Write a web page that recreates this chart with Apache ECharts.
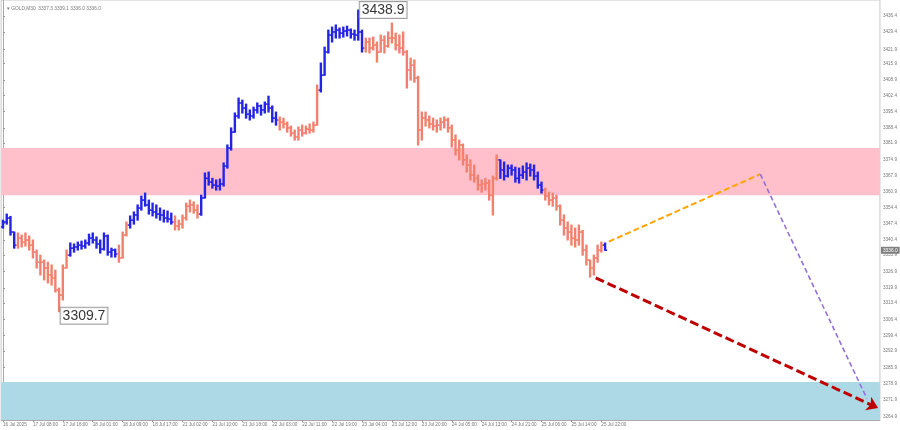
<!DOCTYPE html>
<html>
<head>
<meta charset="utf-8">
<script src="https://cdn.jsdelivr.net/npm/echarts@6/dist/echarts.min.js"></script>
<style>html,body{margin:0;padding:0;background:#fff}#c{width:900px;height:430px}</style>
</head>
<body>
<div id="c"></div>
<script>
// ---------- DATA ----------
const headerText = '\u25BE GOLD,M30  3337.3 3339.1 3336.0 3336.0';
const firstOpen = 3346.0;
const closes = [
3348.1,3349.8,3343.8,3338.2,3341.2,3339.5,3340.4,3338.2,3335.2,3330.9,
3330.9,3328.4,3325.4,3324.1,3319.0,3316.8,3328.4,3333.9,3336.9,3337.4,
3338.2,3337.8,3339.1,3341.2,3340.4,3338.7,3336.5,3342.1,3335.2,3336.1,
3334.4,3332.7,3342.5,3346.8,3348.9,3351.1,3354.1,3357.5,3355.4,3353.2,
3352.4,3351.5,3351.1,3349.8,3349.4,3348.1,3346.4,3347.2,3349.8,3354.9,
3355.4,3353.2,3351.5,3358.4,3366.8,3365.2,3363.9,3363.5,3364.4,3372.1,
3379.8,3386.6,3393.5,3399.1,3396.9,3394.3,3393.5,3396.1,3397.8,3396.1,
3398.6,3396.9,3392.6,3391.8,3390.9,3390.1,3388.4,3386.2,3384.5,3387.5,
3386.2,3387.9,3387.5,3389.6,3404.6,3411.0,3420.9,3428.2,3429.5,3430.3,
3429.0,3429.9,3430.3,3428.6,3428.2,3429.5,3422.6,3425.2,3422.6,3423.9,
3420.9,3426.0,3423.5,3426.9,3426.9,3423.9,3422.6,3420.9,3413.2,3415.3,
3409.8,3387.5,3392.6,3391.8,3390.1,3389.2,3389.6,3390.9,3391.8,3388.4,
3383.2,3378.9,3381.1,3374.7,3372.5,3368.2,3366.8,3363.9,3364.4,3364.8,
3359.6,3366.8,3374.7,3370.4,3367.8,3371.2,3370.4,3366.8,3368.2,3369.5,
3371.2,3370.4,3367.8,3363.9,3361.8,3359.2,3357.5,3358.4,3354.9,3348.9,
3345.5,3343.8,3341.2,3340.4,3343.8,3336.1,3331.8,3328.4,3332.7,3336.1,
3338.2,3336.0];
const highs = [
3348.9,3351.5,3350.5,3343.8,3343.4,3342.5,3343.4,3342.1,3340.4,3336.1,
3333.9,3331.8,3330.9,3329.7,3327.5,3319.8,3329.7,3336.1,3339.1,3338.7,
3339.5,3339.9,3340.4,3342.9,3343.4,3341.7,3340.4,3343.4,3342.5,3336.9,
3336.5,3338.2,3343.8,3348.1,3350.7,3352.4,3355.4,3359.2,3360.5,3357.5,
3356.2,3355.4,3354.1,3353.2,3352.8,3351.9,3350.7,3348.9,3351.1,3356.2,
3357.5,3356.7,3355.4,3359.6,3369.1,3369.5,3366.8,3366.1,3366.5,3373.4,
3381.1,3388.4,3394.8,3401.2,3400.3,3398.6,3396.1,3397.3,3399.1,3398.2,
3399.5,3402.0,3397.8,3395.2,3393.1,3392.6,3390.9,3389.2,3387.5,3388.8,
3389.6,3389.2,3390.1,3390.9,3406.8,3416.2,3423.0,3430.3,3431.6,3432.5,
3431.2,3431.6,3432.0,3430.8,3430.3,3438.9,3430.3,3426.9,3426.9,3427.3,
3425.2,3428.2,3427.8,3429.5,3433.3,3429.0,3428.2,3429.5,3421.5,3418.3,
3417.5,3410.5,3395.2,3395.2,3393.5,3392.6,3391.8,3392.6,3393.1,3392.6,
3389.6,3385.4,3383.2,3381.5,3376.8,3374.7,3372.5,3368.2,3366.1,3366.8,
3366.1,3367.8,3376.8,3374.7,3373.8,3372.5,3372.5,3371.6,3371.2,3372.1,
3373.4,3372.9,3372.5,3369.5,3365.2,3362.6,3360.9,3360.5,3359.6,3355.4,
3351.1,3348.1,3346.8,3345.5,3346.8,3344.5,3338.2,3331.8,3333.9,3338.2,
3339.5,3339.1];
const lows = [
3345.5,3347.2,3342.5,3336.9,3336.9,3337.4,3337.8,3336.1,3332.7,3328.4,
3325.4,3323.3,3322.0,3321.1,3318.1,3309.7,3314.7,3328.4,3333.5,3335.2,
3336.1,3336.5,3336.9,3338.2,3339.1,3336.9,3334.8,3336.1,3333.9,3333.1,
3333.1,3330.9,3332.7,3342.1,3345.5,3347.2,3348.9,3353.2,3354.9,3351.5,
3350.7,3349.8,3348.9,3348.1,3348.1,3347.2,3344.7,3344.7,3345.5,3348.9,
3352.4,3351.9,3349.8,3351.0,3358.4,3363.9,3362.6,3361.8,3361.8,3363.5,
3371.2,3378.9,3386.6,3392.6,3394.8,3392.6,3391.8,3392.6,3394.8,3393.9,
3394.8,3395.2,3390.9,3389.6,3387.5,3388.4,3386.6,3384.9,3383.2,3383.2,
3384.9,3385.8,3386.2,3386.6,3389.6,3403.8,3411.0,3420.5,3425.2,3426.9,
3426.9,3427.3,3427.8,3426.9,3426.0,3426.0,3420.9,3420.9,3420.5,3421.8,
3416.6,3420.9,3420.5,3423.0,3424.8,3421.8,3420.5,3419.6,3405.5,3408.9,
3408.0,3381.1,3383.2,3389.2,3388.4,3387.5,3386.6,3387.5,3388.4,3386.6,
3380.2,3376.8,3374.7,3372.5,3369.5,3366.1,3365.2,3361.8,3360.9,3361.8,
3357.5,3351.1,3366.1,3366.8,3366.1,3367.4,3368.2,3365.2,3364.8,3366.8,
3366.1,3367.8,3366.1,3362.6,3360.5,3357.5,3355.4,3354.9,3353.2,3346.8,
3342.5,3340.4,3338.2,3337.4,3338.2,3333.9,3329.7,3324.5,3325.4,3330.9,
3335.2,3336.0];
// last bar index of each wave, and its direction (up = blue, down = salmon)
const waveEnds = [3, 17, 30, 33, 45, 52, 73, 84, 96, 132, 144, 160, 161];
const waveDirs = ['up','down','up','down','up','down','up','down','up','down','up','down','up'];
const totalSlots = 235; // bars + future slots on the time axis
const xTickLabels = ['16 Jul 2025','17 Jul 08:00','17 Jul 16:00','18 Jul 01:00','18 Jul 09:00','18 Jul 17:00',
  '21 Jul 02:00','21 Jul 10:00','21 Jul 18:00','22 Jul 03:00','22 Jul 11:00','22 Jul 19:00','23 Jul 04:00',
  '23 Jul 12:00','23 Jul 20:00','24 Jul 05:00','24 Jul 13:00','24 Jul 21:00','25 Jul 06:00','25 Jul 14:00','25 Jul 22:00'];
const xTickStep = 8;
const yTicks = [3436.4,3429.4,3421.9,3415.9,3408.9,3402.4,3395.4,3388.4,3381.9,3374.9,3367.9,3360.9,3354.4,
  3347.4,3340.4,3333.9,3326.9,3319.9,3313.4,3306.4,3299.4,3292.9,3285.9,3278.9,3271.9,3264.9];
const yMin = 3263.3, yMax = 3443.2;
const pinkZone = [3359.6, 3379.8];
const blueZone = [3263.3, 3279.6];
const extremeHigh = [95, 3438.9];
const extremeLow = [15, 3309.7];
const currentPrice = 3336.0;
const orangePath = [[162.0, 3339.7], [202.5, 3368.6]];
const purplePath = [[202.5, 3368.6], [231.0, 3272.5]];
const redPath = [[158.5, 3324.2], [234.0, 3268.4]];

// ---------- BUILD ----------
const UP = '#2424e6', DOWN = '#f2806e';
const dirOf = [];
{ let s = 0; waveEnds.forEach((e, k) => { for (let i = s; i <= e; i++) dirOf[i] = waveDirs[k] === 'up' ? 1 : 0; s = e + 1; }); }
const bars = closes.map((c, i) => [i, i === 0 ? firstOpen : closes[i - 1], c, lows[i], highs[i], dirOf[i]]);
const xTickValues = xTickLabels.map((_, k) => k * xTickStep);
const FONT = 'Liberation Sans, Arial, sans-serif';

const chart = echarts.init(document.getElementById('c'), null, {renderer: 'canvas'});
chart.setOption({
  animation: false,
  backgroundColor: '#fff',
  title: {text: headerText, left: 2, top: 1, textStyle: {fontSize: 4.8, color: '#777', fontWeight: 'normal', fontFamily: FONT}},
  grid: {left: 0, right: 18, top: 0, bottom: 10, show: true, borderColor: '#c8c8c8', borderWidth: 1},
  xAxis: {
    type: 'value', min: -0.5, max: totalSlots - 0.5,
    axisLine: {show: true, lineStyle: {color: '#aaa', width: 1}},
    splitLine: {show: false},
    axisTick: {show: true, customValues: xTickValues, length: 2, inside: false, lineStyle: {color: '#999'}},
    axisLabel: {customValues: xTickValues, formatter: v => xTickLabels[Math.round(v / xTickStep)] || '',
      fontSize: 4.6, color: '#777', align: 'left', margin: 2, fontFamily: FONT}
  },
  yAxis: {
    type: 'value', position: 'right', min: yMin, max: yMax, scale: true,
    axisLine: {show: true, lineStyle: {color: '#aaa', width: 1}},
    splitLine: {show: false},
    axisTick: {show: true, customValues: yTicks, length: 2, lineStyle: {color: '#999'}},
    axisLabel: {customValues: yTicks, formatter: v => v.toFixed(1), fontSize: 4.6, color: '#777', margin: 3, fontFamily: FONT}
  },
  series: [
    {
      type: 'line', data: [], silent: true, z: 1,
      markArea: {silent: true, data: [
        [{xAxis: -0.5, yAxis: pinkZone[1], itemStyle: {color: '#ffc0cb'}}, {xAxis: totalSlots - 0.5, yAxis: pinkZone[0]}],
        [{xAxis: -0.5, yAxis: blueZone[1], itemStyle: {color: '#add8e6'}}, {xAxis: totalSlots - 0.5, yAxis: blueZone[0]}]
      ]}
    },
    {
      type: 'custom', z: 5,
      data: bars,
      encode: {x: 0, y: [1, 2, 3, 4]},
      renderItem: function (params, api) {
        const x = api.value(0);
        const pO = api.coord([x, api.value(1)]);
        const pC = api.coord([x, api.value(2)]);
        const pL = api.coord([x, api.value(3)]);
        const pH = api.coord([x, api.value(4)]);
        const w = api.size([1, 0])[0];
        const half = w * 0.55;
        const col = api.value(5) ? UP : DOWN;
        return {type: 'group', children: [
          {type: 'line', shape: {x1: pL[0], y1: pL[1] + 0.5, x2: pH[0], y2: pH[1] - 0.5}, style: {stroke: col, lineWidth: 2.4}},
          {type: 'line', shape: {x1: pO[0] - half, y1: pO[1], x2: pO[0], y2: pO[1]}, style: {stroke: col, lineWidth: 1.5}},
          {type: 'line', shape: {x1: pC[0], y1: pC[1], x2: pC[0] + half, y2: pC[1]}, style: {stroke: col, lineWidth: 1.5}}
        ]};
      },
      markLine: {
        silent: true, symbol: ['none', 'none'],
        lineStyle: {color: 'rgba(0,0,0,0)', width: 0},
        label: {show: true, position: 'end', distance: 1, formatter: () => currentPrice.toFixed(1), backgroundColor: '#808080',
          color: '#fff', fontSize: 4.8, padding: [1, 2], fontFamily: FONT},
        data: [{yAxis: currentPrice}]
      }
    },
    {
      type: 'lines', coordinateSystem: 'cartesian2d', z: 6,
      data: [{coords: orangePath}],
      lineStyle: {color: '#ffa500', width: 2, type: [6, 3], opacity: 1}
    },
    {
      type: 'lines', coordinateSystem: 'cartesian2d', z: 6,
      data: [{coords: purplePath}],
      lineStyle: {color: '#9370db', width: 1.6, type: [5, 3], opacity: 1}
    },
    {
      type: 'lines', coordinateSystem: 'cartesian2d', z: 7,
      data: [{coords: redPath}],
      symbol: ['none', 'arrow'], symbolSize: 11,
      lineStyle: {color: '#c00000', width: 3, type: [9, 4], opacity: 1}
    },
    {
      type: 'scatter', z: 8, symbolSize: 1, itemStyle: {color: 'rgba(0,0,0,0)'},
      data: [
        {value: extremeHigh, label: {offset: [0, 0]}},
        {value: extremeLow, label: {offset: [0, 4]}}
      ],
      label: {show: true, position: 'right', distance: 1, formatter: p => p.value[1].toFixed(1),
        fontSize: 14, color: '#000', fontFamily: FONT, backgroundColor: '#fff',
        borderColor: '#888', borderWidth: 1, padding: [1, 2]}
    }
  ]
});
</script>
</body>
</html>
